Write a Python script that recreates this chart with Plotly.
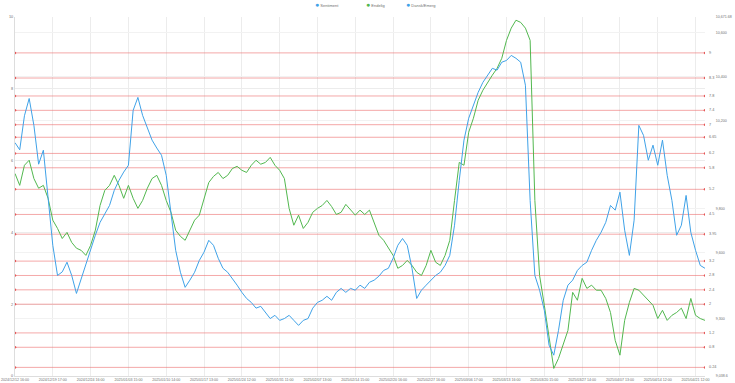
import plotly.graph_objects as go

# ---- data ----
tick_labels = [
    "2024/12/12 16:00", "2024/12/19 17:00", "2024/12/24 16:00", "2025/01/03 15:00",
    "2025/01/10 14:00", "2025/01/17 13:00", "2025/01/24 12:00", "2025/01/31 11:00",
    "2025/02/07 13:00", "2025/02/14 15:00", "2025/02/20 16:00", "2025/02/27 16:00",
    "2025/03/06 17:00", "2025/03/13 16:00", "2025/03/20 15:00", "2025/03/27 14:00",
    "2025/04/07 13:00", "2025/04/14 12:00", "2025/04/21 12:00",
]
points_per_tick = 8

sentiment = [
    6.5, 6.3, 7.25, 7.73, 6.98, 5.9, 6.29, 4.9, 3.64, 2.8,
    2.9, 3.17, 2.8, 2.3, 2.72, 3.08, 3.56, 3.92, 4.28, 4.53,
    4.75, 5.17, 5.45, 5.68, 5.87, 7.4, 7.76, 7.26, 6.9, 6.57,
    6.35, 6.15, 5.59, 4.48, 3.5, 2.89, 2.47, 2.67, 2.89, 3.22,
    3.45, 3.78, 3.64, 3.28, 3.0, 2.89, 2.72, 2.53, 2.33, 2.16,
    2.05, 1.89, 1.94, 1.77, 1.6, 1.69, 1.55, 1.6, 1.69, 1.55,
    1.41, 1.55, 1.6, 1.89, 2.05, 2.11, 2.22, 2.11, 2.33, 2.44,
    2.33, 2.44, 2.39, 2.53, 2.44, 2.61, 2.67, 2.78, 2.94, 3.0,
    3.28, 3.64, 3.83, 3.64, 3.0, 2.16, 2.39, 2.53, 2.67, 2.8,
    2.89, 3.08, 3.36, 4.2, 5.45, 6.57, 7.18, 7.54, 7.9, 8.18,
    8.38, 8.57, 8.52, 8.74, 8.79, 8.93, 8.85, 8.74, 8.1, 4.89,
    2.8, 2.39, 1.83, 0.86, 0.58, 1.27, 2.11, 2.53, 2.67, 2.94,
    3.08, 3.17, 3.5, 3.78, 4.0, 4.28, 4.75, 4.62, 5.12, 4.06,
    3.36, 4.34, 6.98, 6.7, 6.01, 6.43, 5.87, 6.57, 5.59, 4.89,
    3.92, 4.2, 5.03, 4.0, 3.5, 3.08, 3.0,
]

endelig = [
    5.64, 5.31, 5.87, 6.01, 5.5, 5.23, 5.31, 4.95, 4.34, 4.11,
    3.83, 4.0, 3.72, 3.56, 3.5, 3.36, 3.64, 4.06, 4.75, 5.17,
    5.31, 5.59, 5.31, 4.95, 5.31, 4.95, 4.67, 4.89, 5.23, 5.5,
    5.59, 5.31, 4.89, 4.56, 4.06, 3.89, 3.78, 4.06, 4.34, 4.48,
    4.95, 5.39, 5.56, 5.67, 5.5, 5.59, 5.78, 5.84, 5.73, 5.67,
    5.87, 6.01, 5.9, 5.95, 6.09, 5.87, 5.73, 5.5, 4.67, 4.2,
    4.48, 4.11, 4.28, 4.56, 4.67, 4.75, 4.89, 4.72, 4.5, 4.56,
    4.78, 4.62, 4.48, 4.62, 4.5, 4.62, 4.28, 3.92, 3.78, 3.56,
    3.36, 3.0, 3.08, 3.22, 3.08, 2.89, 2.8, 3.08, 3.5, 3.17,
    3.08, 3.36, 3.78, 4.89, 5.95, 5.87, 6.79, 7.18, 7.68, 7.96,
    8.18, 8.38, 8.57, 8.85, 9.35, 9.69, 9.91, 9.85, 9.69, 9.35,
    4.89, 2.8, 1.97, 1.13, 0.21, 0.49, 0.86, 1.27, 2.33, 2.11,
    2.72, 2.44, 2.53, 2.39, 2.39, 2.16, 1.77, 0.99, 0.58, 1.55,
    2.05, 2.44, 2.39, 2.25, 2.11, 1.97, 1.6, 1.83, 1.55, 1.69,
    1.77, 1.89, 1.6, 2.16, 1.69, 1.6, 1.55,
]

dansk_emerg = []  # right-axis series (no visible line in the reference)

series_names = ["Sentiment", "Endelig", "Dansk/Emerg"]

levels = [9, 8.3, 7.8, 7.4, 7, 6.65, 6.2, 5.8, 5.2, 4.5, 3.95, 3.2, 2.8, 2.4, 2, 1.2, 0.8, 0.24]
level_labels = ["9", "8.3", "7.8", "7.4", "7", "6.65", "6.2", "5.8", "5.2", "4.5", "3.95",
                "3.2", "2.8", "2.4", "2", "1.2", "0.8", "0.24"]

right_min = 9038.6
right_max = 10671.68
right_ticks = [10600, 10400, 10200, 9800, 9600, 9300]

# ---- styling ----
BLUE = "#3fa2e8"
GREEN = "#52b84f"
RED = "rgba(236,110,110,0.6)"
GRID = "#ececec"
FONT = "Liberation Sans"
TXT = "#707070"

n = len(sentiment)
xs = list(range(n))
xmax = n - 1

fig = go.Figure()

# red reference levels
lx, ly = [], []
for v in levels:
    lx += [0, xmax, None]
    ly += [v, v, None]
fig.add_trace(go.Scatter(x=lx, y=ly, mode="lines+markers", showlegend=False,
                         line=dict(color=RED, width=1),
                         marker=dict(color="rgba(225,70,70,0.85)", size=2.5),
                         hoverinfo="skip"))

fig.add_trace(go.Scatter(x=xs, y=endelig, mode="lines", name=series_names[1], showlegend=False,
                         line=dict(color=GREEN, width=1)))
fig.add_trace(go.Scatter(x=xs, y=sentiment, mode="lines", name=series_names[0], showlegend=False,
                         line=dict(color=BLUE, width=1)))
fig.add_trace(go.Scatter(x=list(range(len(dansk_emerg))), y=dansk_emerg, mode="lines",
                         name=series_names[2], yaxis="y2", showlegend=False,
                         line=dict(color=BLUE, width=1)))

# legend (dot + name) across the top
legend_x = [0.432, 0.506, 0.564]
for name, col, lxp in zip(series_names, [BLUE, GREEN, BLUE], legend_x):
    fig.add_annotation(x=lxp, xref="paper", y=1.034, yref="paper", showarrow=False,
                       xanchor="left", yanchor="middle",
                       text=f'<span style="color:{col};font-size:7px">●</span> {name}',
                       font=dict(size=4, color=TXT, family=FONT))

for v, t in zip(levels, level_labels):
    fig.add_annotation(x=1, xref="paper", y=v, yref="y", text=t, showarrow=False,
                       xanchor="left", xshift=2, font=dict(size=3.8, color=TXT, family=FONT))

tickvals = [i * points_per_tick for i in range(len(tick_labels))]

fig.update_layout(
    width=735, height=383,
    margin=dict(l=15, r=30, t=17, b=7),
    paper_bgcolor="white", plot_bgcolor="white",
    font=dict(family=FONT, size=3.8, color=TXT),
    showlegend=False,
    xaxis=dict(range=[0, xmax], tickvals=tickvals, ticktext=tick_labels,
               showgrid=True, gridcolor=GRID, gridwidth=1, zeroline=False,
               showline=True, linecolor="#dddddd", linewidth=1,
               tickfont=dict(size=3.6, color=TXT), ticks="", automargin=False,
               tickangle=0),
    yaxis=dict(range=[0, 10], tickvals=[0, 2, 4, 6, 8, 10],
               showgrid=True, gridcolor=GRID, zeroline=False,
               showline=True, linecolor="#dddddd", linewidth=1,
               tickfont=dict(size=3.8, color=TXT), ticks="", automargin=False),
    yaxis2=dict(range=[right_min, right_max], overlaying="y", side="right",
                tickvals=[right_max] + right_ticks + [right_min],
                ticktext=[f"{right_max:,.2f}"] + [f"{v:,}" for v in right_ticks] + [f"{right_min:,.1f}"],
                showgrid=True, gridcolor="#f2f2f2", zeroline=False, showline=False,
                ticks="outside", ticklen=9, tickcolor="rgba(0,0,0,0)",
                tickfont=dict(size=3.6, color=TXT), automargin=False),
)

fig.write_html("out.html", config={"displayModeBar": False},
               post_script="document.body.style.margin='0';")
